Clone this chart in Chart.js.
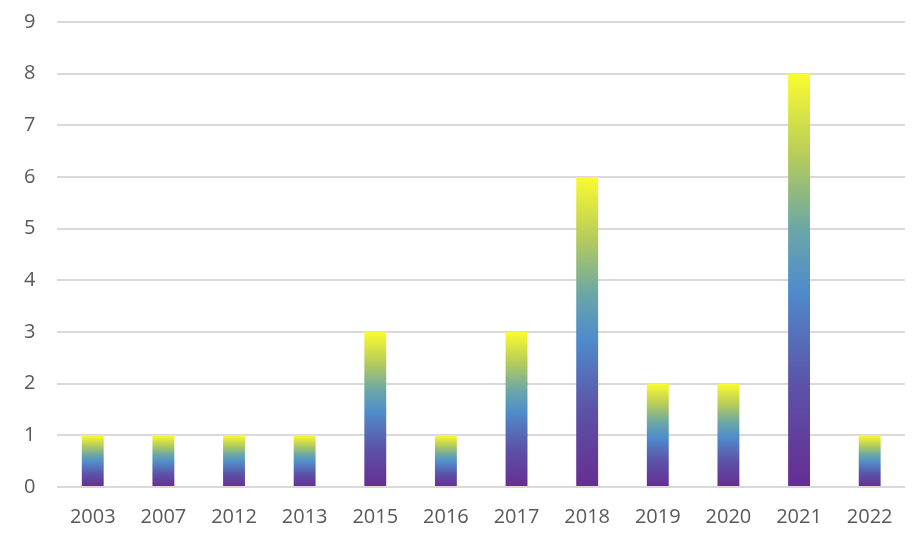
<!DOCTYPE html>
<html>
<head>
<meta charset="utf-8">
<script src="https://cdn.jsdelivr.net/npm/chart.js@4/dist/chart.umd.min.js"></script>
<style>
  html, body { margin: 0; padding: 0; background: #fff; }
  #wrap { width: 922px; height: 541px; }
</style>
</head>
<body>
<div id="wrap"><canvas id="c" width="922" height="541"></canvas></div>
<script>
// chart data
const years  = ['2003','2007','2012','2013','2015','2016','2017','2018','2019','2020','2021','2022'];
const counts = [1, 1, 1, 1, 3, 1, 3, 6, 2, 2, 8, 1];
const yTicks = [0, 1, 2, 3, 4, 5, 6, 7, 8, 9];

// purple -> blue -> green -> yellow, stretched over each bar
function barGradient(ctx) {
  const chart = ctx.chart;
  const y = chart.scales.y;
  if (!y || ctx.raw == null) return '#5a4fa0';
  const bottom = y.getPixelForValue(0);
  const top = y.getPixelForValue(ctx.raw);
  if (!isFinite(bottom) || !isFinite(top) || bottom === top) return '#5a4fa0';
  const g = chart.ctx.createLinearGradient(0, bottom, 0, top);
  g.addColorStop(0,    '#662d91');
  g.addColorStop(0.25, '#5c53a8');
  g.addColorStop(0.48, '#4f8ccb');
  g.addColorStop(0.62, '#6aa6a8');
  g.addColorStop(0.8,  '#b5cc5a');
  g.addColorStop(1,    '#fbfb30');
  return g;
}

const tickFont = { family: "'Open Sans', 'Liberation Sans', sans-serif", size: 20 };

new Chart(document.getElementById('c'), {
  type: 'bar',
  data: {
    labels: years,
    datasets: [{
      data: counts,
      backgroundColor: barGradient,
      borderWidth: 0,
      categoryPercentage: 1,
      barPercentage: 0.31
    }]
  },
  options: {
    responsive: false,
    animation: false,
    layout: { padding: { left: 24, right: 17, top: 22, bottom: 12 } },
    plugins: { legend: { display: false }, tooltip: { enabled: false } },
    scales: {
      x: {
        // invisible tick marks used as the gap under the plot
        grid: { display: false, drawTicks: true, tickLength: 18 },
        border: { display: false },
        ticks: { color: '#595959', font: tickFont, padding: 0, maxRotation: 0 }
      },
      y: {
        min: 0,
        max: 9,
        afterBuildTicks: axis => { axis.ticks = yTicks.map(v => ({ value: v })); },
        grid: { color: '#d9d9d9', lineWidth: 2, drawTicks: true, tickLength: 22, tickColor: 'rgba(0,0,0,0)' },
        border: { display: false },
        ticks: { color: '#595959', font: tickFont, padding: 0 }
      }
    }
  }
});
</script>
</body>
</html>
